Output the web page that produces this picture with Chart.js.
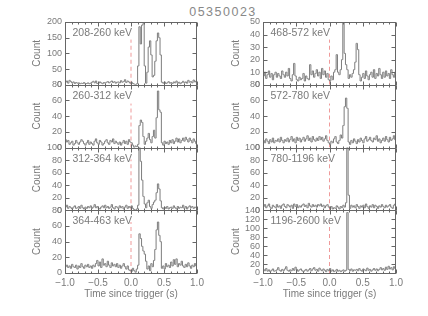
<!DOCTYPE html>
<html>
<head>
<meta charset="utf-8">
<script src="https://cdn.jsdelivr.net/npm/chart.js@4.4.1/dist/chart.umd.min.js"></script>
<style>
  html, body { margin: 0; padding: 0; background: #fff; }
  #fig { position: relative; width: 428px; height: 316px; overflow: hidden; }
  #title { position: absolute; top: 5px; left: 9px; width: 428px; text-align: center;
           font: 12.5px "Liberation Sans", Arial, sans-serif; color: #888; letter-spacing: 1.5px; }
  canvas { position: absolute; top: 0; }
</style>
</head>
<body>
<div id="fig">
  <div id="title">05350023</div>
  <canvas id="left" width="214" height="316" style="left:0"></canvas>
  <canvas id="right" width="214" height="316" style="left:214px"></canvas>
</div>
<script>
// 0.02 s bins from -1.0 to 1.0 (bin centres)
const binCenters = Array.from({ length: 100 }, (_, i) => -0.99 + 0.02 * i);
const xLabelTicks = [-1.0, -0.5, 0.0, 0.5, 1.0];

const leftBands = ["208-260 keV", "260-312 keV", "312-364 keV", "364-463 keV"];
const rightBands = ["468-572 keV", "572-780 keV", "780-1196 keV", "1196-2600 keV"];
const leftMax = [200, 80, 100, 80];
const leftStep = [50, 20, 20, 20];
const rightMax = [50, 80, 100, 140];
const rightStep = [10, 20, 20, 20];
// top of the dashed trigger line in each panel (counts)
const leftTrigger = [144, 56, 81, 65];
const rightTrigger = [36, 56, 81, 113];

const counts208 = [
  8, 12, 5, 14, 10, 6, 9, 4, 7, 5,
  6, 3, 5, 4, 7, 3, 4, 6, 3, 5,
  8, 11, 6, 12, 4, 5, 9, 6, 3, 7,
  5, 8, 10, 6, 9, 12, 7, 10, 5, 8,
  9, 6, 13, 8, 10, 16, 7, 12, 9, 5,
  8, 4, 2, 0, 3, 60, 185, 130, 190, 195,
  60, 5, 40, 120, 140, 95, 25, 30, 75, 140,
  165, 150, 95, 8, 5, 9, 4, 6, 10, 5,
  7, 4, 9, 6, 12, 5, 8, 3, 7, 11,
  6, 9, 5, 14, 8, 10, 6, 15, 9, 12
];
const counts260 = [
  10, 7, 9, 4, 6, 8, 3, 5, 9, 6,
  4, 7, 10, 8, 5, 3, 6, 9, 4, 7,
  5, 3, 8, 11, 6, 4, 9, 7, 3, 5,
  8, 10, 6, 4, 9, 7, 11, 5, 8, 6,
  4, 7, 3, 6, 9, 5, 8, 4, 10, 7,
  6, 3, 0, 2, 1, 4, 28, 35, 32, 14,
  4, 8, 12, 18, 10, 6, 14, 22, 12, 38,
  72, 48, 45, 6, 3, 8, 5, 7, 4, 9,
  6, 10, 5, 8, 12, 7, 11, 6, 9, 12,
  8, 13, 10, 7, 12, 9, 6, 11, 8, 5
];
const counts312 = [
  5, 8, 3, 6, 4, 2, 5, 7, 3, 4,
  6, 3, 8, 4, 2, 5, 3, 6, 4, 7,
  3, 5, 9, 4, 6, 3, 2, 5, 7, 4,
  8, 4, 6, 3, 5, 9, 4, 2, 6, 5,
  3, 7, 4, 6, 2, 5, 8, 3, 6, 4,
  7, 3, 1, 0, 2, 8, 100, 78, 48, 22,
  10, 4, 12, 16, 6, 3, 9, 13, 16, 28,
  42, 34, 15, 4, 2, 5, 3, 6, 2, 4,
  5, 3, 7, 4, 2, 6, 3, 5, 4, 8,
  3, 6, 2, 5, 7, 4, 6, 3, 5, 4
];
const counts364 = [
  8, 10, 7, 9, 6, 11, 8, 7, 10, 5,
  9, 7, 12, 8, 6, 10, 8, 11, 7, 9,
  6, 10, 8, 12, 16, 9, 14, 7, 18, 10,
  12, 8, 15, 10, 7, 13, 9, 11, 8, 12,
  7, 10, 6, 9, 12, 8, 5, 9, 4, 3,
  2, 6, 3, 1, 5, 10, 50, 44, 34, 28,
  24, 15, 5, 9, 3, 12, 8, 16, 30, 55,
  65, 48, 40, 6, 9, 5, 12, 8, 10, 7,
  14, 9, 17, 11, 18, 8, 12, 10, 15, 9,
  7, 11, 8, 13, 9, 6, 10, 8, 12, 9
];
const counts468 = [
  7, 10, 5, 8, 11, 6, 9, 4, 8, 10,
  6, 9, 7, 5, 11, 8, 6, 10, 7, 13,
  5, 3, 8, 17, 7, 4, 3, 6, 4, 5,
  9, 3, 7, 5, 4, 16, 8, 11, 6, 9,
  12, 7, 10, 5, 13, 8, 11, 6, 9, 4,
  3, 7, 4, 10, 12, 24, 10, 8, 12, 20,
  50, 25, 16, 12, 5, 8, 6, 9, 12, 18,
  33, 28, 8, 3, 6, 9, 5, 11, 7, 4,
  8, 10, 6, 12, 5, 9, 7, 13, 8, 5,
  10, 6, 11, 7, 9, 5, 12, 8, 6, 10
];
const counts572 = [
  9, 6, 11, 8, 5, 10, 7, 12, 6, 9,
  8, 11, 7, 13, 9, 6, 10, 8, 12, 7,
  10, 14, 8, 11, 6, 13, 9, 12, 7, 10,
  13, 8, 11, 15, 9, 12, 7, 14, 10, 8,
  12, 9, 14, 10, 13, 8, 11, 15, 9, 6,
  4, 8, 6, 11, 14, 7, 5, 9, 16, 12,
  28, 52, 63, 50, 7, 4, 9, 6, 11, 8,
  5, 10, 7, 12, 9, 6, 11, 14, 8, 10,
  13, 9, 7, 12, 10, 15, 8, 11, 6, 9,
  12, 8, 14, 10, 7, 13, 9, 11, 15, 10
];
const counts780 = [
  6, 9, 4, 7, 10, 5, 3, 8, 6, 4,
  9, 5, 7, 3, 8, 10, 6, 4, 9, 7,
  5, 8, 3, 10, 6, 9, 4, 7, 5, 8,
  10, 6, 8, 4, 11, 7, 5, 9, 6, 8,
  5, 9, 7, 10, 6, 8, 4, 7, 9, 5,
  3, 6, 2, 4, 3, 7, 5, 2, 6, 4,
  8, 5, 12, 100, 24, 3, 8, 5, 7, 4,
  9, 6, 3, 7, 5, 8, 4, 10, 6, 3,
  7, 5, 9, 4, 8, 6, 3, 7, 5, 9,
  6, 4, 8, 5, 7, 9, 5, 3, 8, 10
];
const counts1196 = [
  8, 5, 10, 4, 7, 3, 6, 9, 4, 5,
  7, 12, 6, 4, 8, 5, 9, 14, 6, 4,
  7, 5, 10, 6, 13, 8, 4, 7, 9, 5,
  3, 6, 8, 4, 7, 10, 5, 9, 12, 6,
  8, 4, 11, 7, 5, 9, 6, 3, 8, 5,
  10, 4, 7, 3, 5, 8, 4, 6, 3, 5,
  7, 4, 6, 135, 8, 5, 9, 4, 7, 6,
  8, 5, 10, 6, 4, 9, 7, 5, 11, 6,
  8, 4, 7, 10, 6, 9, 5, 8, 12, 7,
  10, 6, 13, 8, 15, 9, 12, 7, 14, 10
];

const FONT = '"Liberation Sans", Arial, sans-serif';
const TEXT = '#7a7a7a';
const AXIS = '#666666';
const LINE = '#7d7d7d';
const TRIG = '#ef9a9a';

const fmt = v => (v < -1e-9 ? '\u2212' : '') + Math.abs(v).toFixed(1);
const isLabelTick = v => xLabelTicks.some(t => Math.abs(t - v) < 1e-6);

function buildColumn(id, bands, series, maxes, steps, trig, pad) {
  const scales = {
    x: {
      type: 'linear', min: -1, max: 1,
      grid: { display: false, drawTicks: false }, border: { display: false },
      ticks: {
        stepSize: 0.1, autoSkip: false, maxRotation: 0, padding: 4,
        color: TEXT, font: { family: FONT, size: 10 },
        callback: v => (isLabelTick(v) ? fmt(v) : '')
      },
      title: { display: true, text: 'Time since trigger (s)', color: TEXT,
               font: { family: FONT, size: 10 }, padding: 0 },
      afterFit: s => { s.height = 27; }
    }
  };
  const datasets = [];
  bands.forEach((band, i) => {
    scales['y' + i] = {
      type: 'linear', position: 'left', stack: 'col', stackWeight: 1,
      weight: bands.length - i,
      min: 0, max: maxes[i],
      grid: { display: false, drawTicks: false }, border: { display: false },
      ticks: { stepSize: steps[i], autoSkip: false, padding: 3, color: TEXT,
               font: { family: FONT, size: 9 } },
      title: { display: true, text: 'Count', color: TEXT,
               font: { family: FONT, size: 10 }, padding: 0 },
      afterFit: s => { s.width = pad.axis; }
    };
    datasets.push({
      data: series[i].map((c, k) => ({ x: binCenters[k], y: c })),
      xAxisID: 'x', yAxisID: 'y' + i,
      stepped: 'middle', borderColor: LINE, borderWidth: 1, pointRadius: 0, fill: false
    });
    datasets.push({
      data: [{ x: 0, y: 0 }, { x: 0, y: trig[i] }],
      xAxisID: 'x', yAxisID: 'y' + i,
      borderColor: TRIG, borderWidth: 1, borderDash: [4, 3], pointRadius: 0, fill: false
    });
  });

  const panelFrame = {
    id: 'panelFrame',
    afterDatasetsDraw(chart) {
      const { ctx, chartArea, scales: sc } = chart;
      const xs = sc.x;
      const left = Math.round(chartArea.left) + 0.5;
      const right = Math.round(chartArea.right) - 0.5;
      ctx.save();
      ctx.strokeStyle = AXIS;
      ctx.lineWidth = 1;
      const seg = (x1, y1, x2, y2) => { ctx.beginPath(); ctx.moveTo(x1, y1); ctx.lineTo(x2, y2); ctx.stroke(); };
      bands.forEach((band, i) => {
        const ys = sc['y' + i];
        const top = Math.round(ys.top) + 0.5;
        const bottom = Math.round(ys.bottom) + 0.5;
        ctx.strokeRect(left, top, right - left, bottom - top);
        xs.ticks.forEach(t => {
          const px = Math.round(xs.getPixelForValue(t.value)) + 0.5;
          const len = isLabelTick(t.value) ? 4 : 2;
          seg(px, bottom, px, bottom - len);
          seg(px, top, px, top + len);
        });
        ys.ticks.forEach(t => {
          const py = Math.round(ys.getPixelForValue(t.value)) + 0.5;
          seg(left, py, left + 4, py);
          seg(right, py, right - 4, py);
        });
        ctx.fillStyle = TEXT;
        ctx.font = '10.5px ' + FONT;
        ctx.textBaseline = 'top';
        ctx.textAlign = 'left';
        ctx.fillText(band, left + 7, top + 5);
      });
      ctx.restore();
    }
  };

  return new Chart(document.getElementById(id), {
    type: 'line',
    data: { datasets },
    options: {
      responsive: false,
      animation: false,
      events: [],
      layout: { padding: { left: pad.left, right: pad.right, top: 22, bottom: 16 } },
      plugins: { legend: { display: false }, tooltip: { enabled: false } },
      scales
    },
    plugins: [panelFrame]
  });
}

buildColumn('left', leftBands, [counts208, counts260, counts312, counts364],
  leftMax, leftStep, leftTrigger, { left: 31, right: 17, axis: 34 });
buildColumn('right', rightBands, [counts468, counts572, counts780, counts1196],
  rightMax, rightStep, rightTrigger, { left: 16, right: 32, axis: 33 });
</script>
</body>
</html>
